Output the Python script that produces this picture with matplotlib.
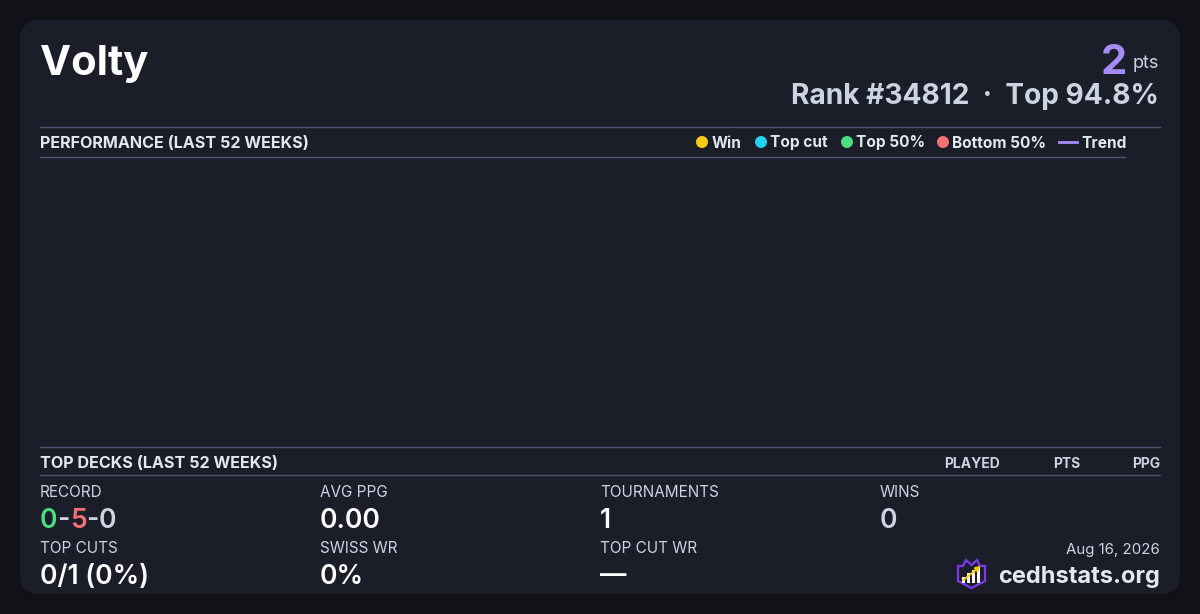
import matplotlib
matplotlib.use("Agg")
import matplotlib.pyplot as plt
from matplotlib.patches import FancyBboxPatch, Circle, Polygon, Rectangle

plt.rcParams['font.family'] = ['Inter', 'DejaVu Sans']

# data
player = "Volty"
points = 2
rank = 34812
top_pct = 94.8
legend_labels = ["Win", "Top cut", "Top 50%", "Bottom 50%"]
legend_colors = ["#facc15", "#22d3ee", "#4ade80", "#f87171"]
trend_label = "Trend"
deck_cols = ["PLAYED", "PTS", "PPG"]
record = [0, 5, 0]
stat_labels = ["RECORD", "AVG PPG", "TOURNAMENTS", "WINS",
               "TOP CUTS", "SWISS WR", "TOP CUT WR"]
stat_values = [None, "0.00", "1", "0", "0/1 (0%)", "0%", "\u2014"]
date_str = "Aug 16, 2026"
site = "cedhstats.org"

BG = "#111218"
CARD = "#1b1d29"
LINE = "#4a5670"
WHITE = "#ffffff"
LIGHT = "#e2e8f0"
GRAY = "#cbd5e1"
PURPLE = "#a78bfa"

fig = plt.figure(figsize=(12, 6.14), dpi=100, facecolor=BG)
ax = fig.add_axes([0, 0, 1, 1])
ax.set_xlim(0, 1200)
ax.set_ylim(614, 0)
ax.axis("off")
ax.set_facecolor(BG)

card = FancyBboxPatch((20, 20), 1160, 574, boxstyle="round,pad=0,rounding_size=20",
                      fc=CARD, ec="none")
ax.add_patch(card)

# header
ax.text(40, 75, player, fontsize=30, fontweight="bold", color=WHITE, va="baseline")
ax.text(1159, 68, "pts", fontsize=13, color=GRAY, ha="right", va="baseline")
ax.text(1127, 74, str(points), fontsize=30, fontweight="bold", color=PURPLE,
        ha="right", va="baseline")
ax.text(1159, 104.5, f"Rank #{rank}  \u00b7  Top {top_pct}%", fontsize=20.2,
        fontweight="bold", color=GRAY, ha="right", va="baseline")

# performance section
ax.plot([40, 1160], [126.5, 126.5], color=LINE, lw=1)
ax.plot([40, 1125], [156.5, 156.5], color=LINE, lw=1)
ax.text(40, 148, "PERFORMANCE (LAST 52 WEEKS)", fontsize=11.6, fontweight="bold",
        color=LIGHT, va="baseline")

leg_x = [702, 761, 847, 943]
for x, lab, col in zip(leg_x, legend_labels, legend_colors):
    ax.add_patch(Circle((x, 142), 6, fc=col, ec="none"))
    ax.text(x + 9.5, 147.5, lab, fontsize=11.1, fontweight="bold", color=LIGHT,
            va="baseline")
ax.plot([1059, 1077], [142, 142], color=PURPLE, lw=2)
ax.text(1081, 147.5, trend_label, fontsize=11.1, fontweight="bold", color=LIGHT,
        va="baseline")

# top decks section
ax.plot([40, 1160], [446.5, 446.5], color=LINE, lw=1)
ax.plot([40, 1160], [474.5, 474.5], color=LINE, lw=1)
ax.text(40, 468, "TOP DECKS (LAST 52 WEEKS)", fontsize=11.6, fontweight="bold",
        color=LIGHT, va="baseline")
for x, lab in zip([1000, 1080, 1160], deck_cols):
    ax.text(x, 467.5, lab, fontsize=10, fontweight="bold", color=GRAY, ha="right",
            va="baseline")

# stats grid
col_x = [40, 320, 600, 880, 40, 320, 600]
row_y = [0, 0, 0, 0, 1, 1, 1]
for i, lab in enumerate(stat_labels):
    x = col_x[i]
    ly = 497 + row_y[i] * 56
    vy = 527.5 + row_y[i] * 56
    ax.text(x, ly, lab, fontsize=11, color=GRAY, va="baseline")
    val = stat_values[i]
    if val is None:
        continue
    col = GRAY if lab == "WINS" else WHITE
    ax.text(x, vy, val, fontsize=19, fontweight="semibold", color=col, va="baseline")

# coloured record
fig.canvas.draw()
renderer = fig.canvas.get_renderer()
parts = [(str(record[0]), "#4ade80"), ("-", GRAY), (str(record[1]), "#f87171"),
         ("-", GRAY), (str(record[2]), GRAY)]
x = 40
for s, c in parts:
    t = ax.text(x, 527.5, s, fontsize=19, fontweight="semibold", color=c, va="baseline")
    bb = t.get_window_extent(renderer)
    x += bb.width

# footer
ax.text(1160, 554, date_str, fontsize=10.8, color=GRAY, ha="right", va="baseline")
ax.text(1160, 583, site, fontsize=17, fontweight="bold", color=LIGHT, ha="right",
        va="baseline")

# logo
shield = Polygon([(958, 566), (963, 566), (966, 560), (971.5, 565), (977, 560),
                  (980, 566), (985, 566), (985, 581), (971.5, 588), (958, 581)],
                 closed=True, fc="none", ec="#7c3aed", lw=1.6)
ax.add_patch(shield)
for bx, bh in zip([962, 967, 972, 977], [6, 10, 13, 16]):
    ax.add_patch(Rectangle((bx, 583 - bh), 3, bh, fc=WHITE, ec="none"))
ax.annotate("", xy=(983, 564), xytext=(961, 582),
            arrowprops=dict(arrowstyle="-|>", color="#facc15", lw=1.4,
                            mutation_scale=7))

fig.savefig("out.png", dpi=100, facecolor=BG)
